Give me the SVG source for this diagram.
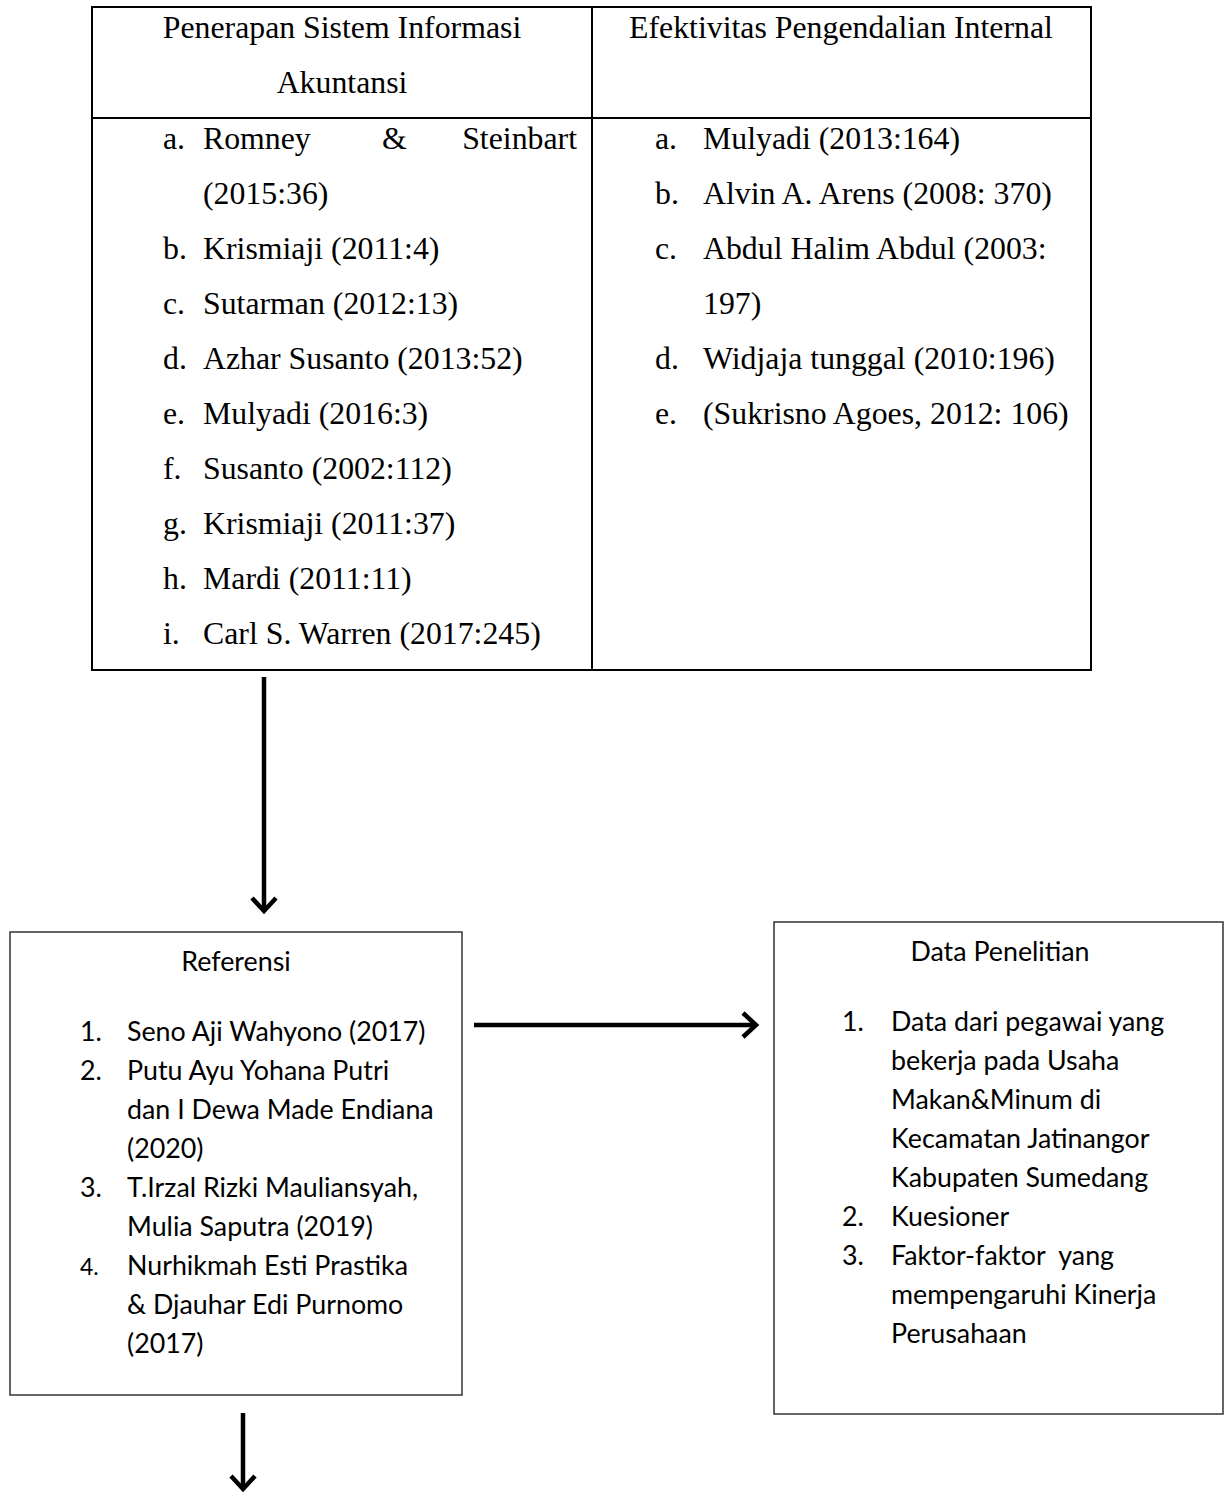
<svg xmlns="http://www.w3.org/2000/svg" width="1225" height="1497" viewBox="0 0 1225 1497">
<style>
.tnr{font-family:"Liberation Serif","Times New Roman",serif;font-size:31.8px;fill:#000}
.cal{font-family:Lato,"Open Sans","Liberation Sans",sans-serif;font-size:26.8px;fill:#000}
.frame{fill:#fff;stroke:#000;stroke-width:2}
.box{fill:#fff;stroke:#333;stroke-width:1.5}
.conn{fill:none;stroke:#000;stroke-width:4.5}
.head{fill:none;stroke:#000;stroke-width:4.5;stroke-linejoin:miter}
</style>
<rect width="1225" height="1497" fill="#fff"/>
<g id="table">
<rect class="frame" x="92" y="7" width="999" height="663"/>
<line x1="92" y1="118" x2="1091" y2="118" stroke="#000" stroke-width="2"/>
<line x1="592" y1="7" x2="592" y2="670" stroke="#000" stroke-width="2"/>
<text class="tnr" x="342" y="38" text-anchor="middle">Penerapan Sistem Informasi</text>
<text class="tnr" x="342" y="93" text-anchor="middle">Akuntansi</text>
<text class="tnr" x="841" y="38" text-anchor="middle">Efektivitas Pengendalian Internal</text>
<g class="tnr">
<text x="163" y="149">a.</text><text x="203" y="149">Romney</text><text x="382" y="149">&amp;</text><text x="577" y="149" text-anchor="end">Steinbart</text>
<text x="203" y="204">(2015:36)</text>
<text x="163" y="259">b.</text><text x="203" y="259">Krismiaji (2011:4)</text>
<text x="163" y="314">c.</text><text x="203" y="314">Sutarman (2012:13)</text>
<text x="163" y="369">d.</text><text x="203" y="369">Azhar Susanto (2013:52)</text>
<text x="163" y="424">e.</text><text x="203" y="424">Mulyadi (2016:3)</text>
<text x="163" y="479">f.</text><text x="203" y="479">Susanto (2002:112)</text>
<text x="163" y="534">g.</text><text x="203" y="534">Krismiaji (2011:37)</text>
<text x="163" y="589">h.</text><text x="203" y="589">Mardi (2011:11)</text>
<text x="163" y="644">i.</text><text x="203" y="644">Carl S. Warren (2017:245)</text>
<text x="655" y="149">a.</text><text x="703" y="149">Mulyadi (2013:164)</text>
<text x="655" y="204">b.</text><text x="703" y="204">Alvin A. Arens (2008: 370)</text>
<text x="655" y="259">c.</text><text x="703" y="259">Abdul Halim Abdul (2003:</text>
<text x="703" y="314">197)</text>
<text x="655" y="369">d.</text><text x="703" y="369">Widjaja tunggal (2010:196)</text>
<text x="655" y="424">e.</text><text x="703" y="424">(Sukrisno Agoes, 2012: 106)</text>
</g>
</g>
<g id="referensi">
<rect class="box" x="10" y="932" width="452" height="463"/>
<g class="cal">
<text x="236" y="971" text-anchor="middle">Referensi</text>
<text x="80" y="1041">1.</text><text x="127" y="1041">Seno Aji Wahyono (2017)</text>
<text x="80" y="1080">2.</text><text x="127" y="1080">Putu Ayu Yohana Putri</text>
<text x="127" y="1119">dan I Dewa Made Endiana</text>
<text x="127" y="1158">(2020)</text>
<text x="80" y="1197">3.</text><text x="127" y="1197">T.Irzal Rizki Mauliansyah,</text>
<text x="127" y="1236">Mulia Saputra (2019)</text>
<text x="80" y="1275" font-size="23">4.</text><text x="127" y="1275">Nurhikmah Esti Prastika</text>
<text x="127" y="1314">&amp; Djauhar Edi Purnomo</text>
<text x="127" y="1353">(2017)</text>
</g>
</g>
<g id="data-penelitian">
<rect class="box" x="774" y="922" width="449" height="492"/>
<g class="cal">
<text x="1000" y="961" text-anchor="middle">Data Penelitian</text>
<text x="842" y="1031">1.</text><text x="891" y="1031">Data dari pegawai yang</text>
<text x="891" y="1070">bekerja pada Usaha</text>
<text x="891" y="1109">Makan&amp;Minum di</text>
<text x="891" y="1148">Kecamatan Jatinangor</text>
<text x="891" y="1187">Kabupaten Sumedang</text>
<text x="842" y="1226">2.</text><text x="891" y="1226">Kuesioner</text>
<text x="842" y="1265">3.</text><text x="891" y="1265" xml:space="preserve">Faktor-faktor  yang</text>
<text x="891" y="1304">mempengaruhi Kinerja</text>
<text x="891" y="1343">Perusahaan</text>
</g>
</g>
<g id="connectors">
<line class="conn" x1="264" y1="677" x2="264" y2="909"/>
<polyline class="head" points="252,898 264,911 276,898"/>
<line class="conn" x1="474" y1="1025" x2="754" y2="1025"/>
<polyline class="head" points="743,1013 756,1025 743,1037"/>
<line class="conn" x1="243" y1="1413" x2="243" y2="1487"/>
<polyline class="head" points="231,1476 243,1489 255,1476"/>
</g>
</svg>
